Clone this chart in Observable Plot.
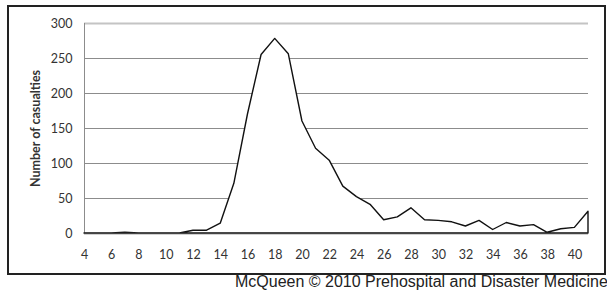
<!DOCTYPE html>
<html>
<head>
<meta charset="utf-8">
<script src="https://cdn.jsdelivr.net/npm/d3@7"></script>
<script src="https://cdn.jsdelivr.net/npm/@observablehq/plot@0.6"></script>
<style>
  html, body { margin: 0; padding: 0; background: #fff; width: 607px; height: 294px; overflow: hidden; position: relative; }
  #box { position: absolute; left: 7px; top: 5px; width: 599px; height: 270px; box-sizing: border-box; border: 2px solid #222; }
  #caption { position: absolute; left: 235px; top: 273px; font-family: "Liberation Sans", Arial, sans-serif; font-size: 16px; color: #222; white-space: nowrap; }
</style>
</head>
<body>
<div id="box"></div>
<div id="caption">McQueen © 2010 Prehospital and Disaster Medicine</div>
<script>
const days = [4,5,6,7,8,9,10,11,12,13,14,15,16,17,18,19,20,21,22,23,24,25,26,27,28,29,30,31,32,33,34,35,36,37,38,39,40,41];
const casualties = [0,0,0,1,0,0,0,0,4,4,14,71,170,255,278,256,160,121,104,67,52,41,19,23,36,19,18,16,10,18,5,15,10,12,1,6,8,31];
const yTicks = [0,50,100,150,200,250,300];
const xTicks = [4,6,8,10,12,14,16,18,20,22,24,26,28,30,32,34,36,38,40];

const data = days.map((d, i) => ({day: d, value: casualties[i]}));
const midTicks = yTicks.filter(t => t > 0 && t < 300);
const topTick = [yTicks[yTicks.length - 1]];

const chart = Plot.plot({
  width: 595,
  height: 266,
  marginLeft: 75,
  marginRight: 16,
  marginTop: 16,
  marginBottom: 40,
  style: {fontFamily: "Lato, sans-serif", fontSize: "12.5px", color: "#333"},
  x: {domain: [4, 41], label: null},
  y: {domain: [0, 300], label: null},
  marks: [
    Plot.ruleY(midTicks, {stroke: "#8c8c8c", strokeWidth: 1}),
    Plot.ruleY(topTick, {stroke: "#c4c4c4", strokeWidth: 2}),
    Plot.ruleX([4], {stroke: "#8c8c8c", strokeWidth: 1, y1: 0, y2: 300}),
    Plot.areaY(data, {x: "day", y: "value", fill: "white", stroke: "#111", strokeWidth: 1.4}),
    Plot.ruleY([0], {stroke: "#444", strokeWidth: 1.3}),
    Plot.axisX({ticks: xTicks, tickSize: 0, tickPadding: 17, label: null}),
    Plot.axisY({ticks: yTicks, tickSize: 0, tickPadding: 12, label: null}),
    Plot.axisY({ticks: [], label: "Number of casualties", labelAnchor: "center", labelArrow: "none", labelOffset: 53, fontSize: "12.5px", fontWeight: "bold"})
  ]
});
document.getElementById("box").appendChild(chart);
</script>
</body>
</html>
